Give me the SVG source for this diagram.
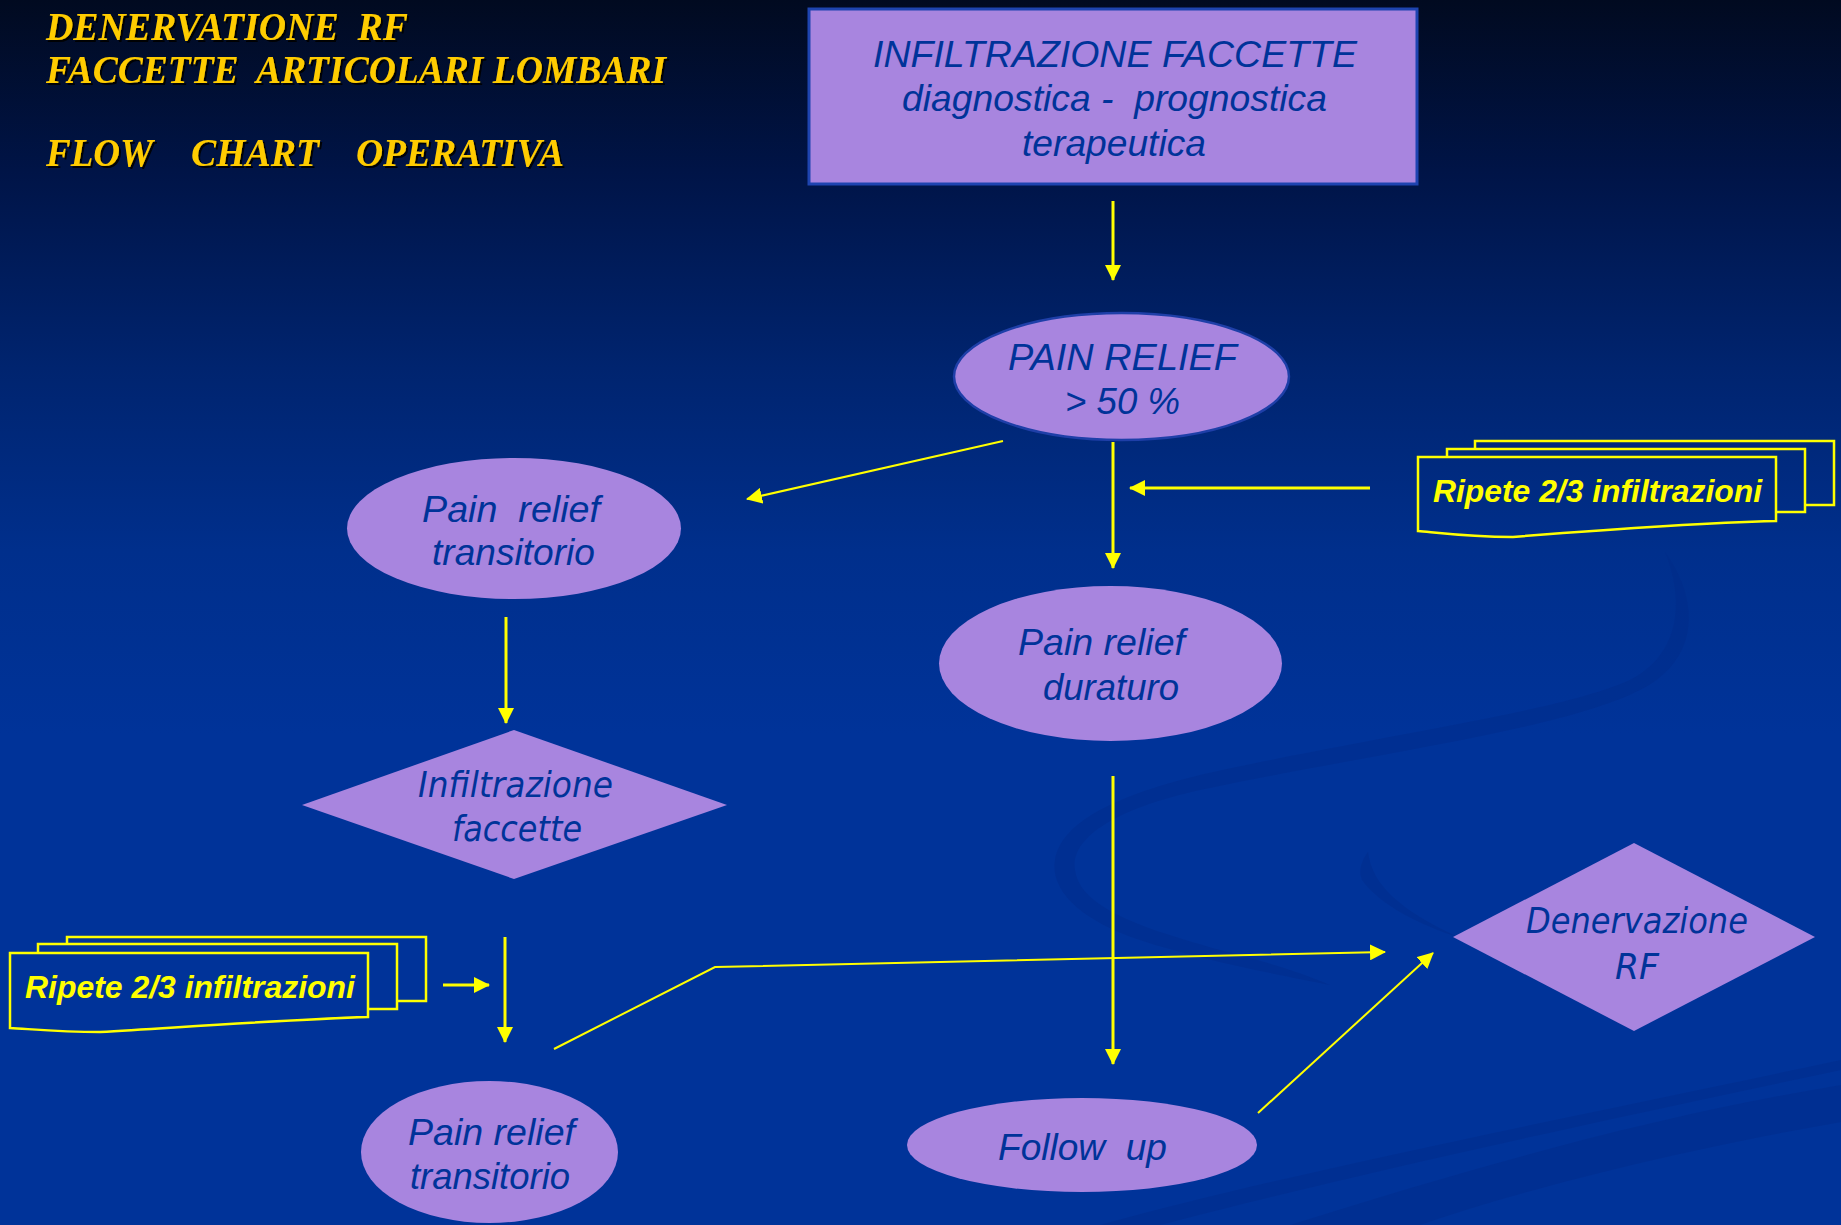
<svg xmlns="http://www.w3.org/2000/svg" width="1841" height="1225" viewBox="0 0 1841 1225" xml:space="preserve">
<defs>
<linearGradient id="bg" gradientUnits="userSpaceOnUse" x1="0" y1="0" x2="0" y2="1225">
<stop offset="0" stop-color="#010a20"/>
<stop offset="0.14" stop-color="#001447"/>
<stop offset="0.3" stop-color="#00246f"/>
<stop offset="0.45" stop-color="#002f8c"/>
<stop offset="0.6" stop-color="#003399"/>
<stop offset="1" stop-color="#003399"/>
</linearGradient>
<filter id="shadow" x="-5%" y="-20%" width="110%" height="150%">
<feDropShadow dx="2" dy="2" stdDeviation="0.6" flood-color="#000000" flood-opacity="0.9"/>
</filter>
<marker id="ah" markerUnits="userSpaceOnUse" markerWidth="16" markerHeight="16" refX="15" refY="8" orient="auto">
<path d="M0,0 L16,8 L0,16 Z" fill="#ffff00"/>
</marker>
<style>
.title{font-family:"Liberation Serif","Times New Roman",serif;font-weight:bold;font-style:italic;font-size:39px;fill:#ffcc00;white-space:pre}
.lbl{font-family:"Liberation Sans",Arial,sans-serif;font-style:italic;font-size:37px;fill:#003399;white-space:pre}
.lbl2{font-family:"DejaVu Sans Condensed","DejaVu Sans",sans-serif;font-style:italic;font-size:35px;fill:#003399;white-space:pre}
.rip{font-family:"Liberation Sans",Arial,sans-serif;font-style:italic;font-weight:bold;font-size:31px;fill:#ffff00;white-space:pre}
.node{fill:#a885df}
.ripbox{fill:url(#bg);stroke:#ffff00;stroke-width:2.5}
.conn{fill:none;stroke:#ffff00;stroke-width:3}
.thin{fill:none;stroke:#ffff00;stroke-width:2}
.sw{fill:#002a86;opacity:0.4}
</style>
</defs>
<rect x="0" y="0" width="1841" height="1225" fill="url(#bg)"/>
<g id="background-swooshes">
<path class="sw" d="M1665,552 C1700,600 1700,660 1640,690 C1560,730 1380,752 1200,790 C1110,810 1070,840 1075,870 C1080,905 1130,925 1220,950 C1260,960 1300,972 1330,985 C1280,975 1200,960 1140,940 C1080,920 1050,890 1055,860 C1062,820 1120,795 1200,775 C1380,735 1560,712 1630,680 C1680,655 1685,600 1665,552 Z"/>
<path class="sw" d="M1368,852 C1372,885 1400,910 1458,937 C1420,925 1380,905 1362,880 C1358,870 1362,860 1368,852 Z" opacity="0.3"/>
<path class="sw" d="M1290,1225 C1480,1165 1660,1115 1841,1085 L1841,1122 C1680,1150 1520,1190 1420,1225 Z"/>
<path class="sw" d="M1100,1225 C1300,1170 1560,1120 1841,1060 L1841,1070 C1580,1125 1330,1180 1160,1225 Z" opacity="0.25"/>
</g>
<g id="title">
<text class="title" x="46" y="40" textLength="362" lengthAdjust="spacingAndGlyphs" filter="url(#shadow)">DENERVATIONE  RF</text>
<text class="title" x="46" y="83" textLength="620" lengthAdjust="spacingAndGlyphs" filter="url(#shadow)">FACCETTE  ARTICOLARI LOMBARI</text>
<text class="title" y="166" filter="url(#shadow)"><tspan x="46" textLength="107" lengthAdjust="spacingAndGlyphs">FLOW</tspan><tspan x="191" textLength="128" lengthAdjust="spacingAndGlyphs">CHART</tspan><tspan x="356" textLength="208" lengthAdjust="spacingAndGlyphs">OPERATIVA</tspan></text>
</g>
<g id="connectors">
<line class="conn" x1="1113" y1="201" x2="1113" y2="280" marker-end="url(#ah)"/>
<line class="conn" x1="1113" y1="442" x2="1113" y2="568" marker-end="url(#ah)"/>
<line class="conn" x1="1370" y1="488" x2="1130" y2="488" marker-end="url(#ah)"/>
<line class="thin" x1="1003" y1="441" x2="747" y2="499" marker-end="url(#ah)"/>
<line class="conn" x1="506" y1="617" x2="506" y2="723" marker-end="url(#ah)"/>
<line class="conn" x1="443" y1="985" x2="489" y2="985" marker-end="url(#ah)"/>
<line class="conn" x1="505" y1="937" x2="505" y2="1042" marker-end="url(#ah)"/>
<polyline class="thin" points="554,1049 715,967 1385,952" marker-end="url(#ah)"/>
<line class="conn" x1="1113" y1="776" x2="1113" y2="1064" marker-end="url(#ah)"/>
<line class="thin" x1="1258" y1="1113" x2="1433" y2="953" marker-end="url(#ah)"/>
</g>
<g id="n-infiltrazione-top">
<rect x="809" y="9" width="608" height="175" fill="#a885df" stroke="#1e44b0" stroke-width="3"/>
<text class="lbl" x="873" y="67" textLength="484" lengthAdjust="spacingAndGlyphs">INFILTRAZIONE FACCETTE</text>
<text class="lbl" x="902" y="111" textLength="425" lengthAdjust="spacingAndGlyphs">diagnostica -  prognostica</text>
<text class="lbl" x="1022" y="156" textLength="184" lengthAdjust="spacingAndGlyphs">terapeutica</text>
</g>
<g id="n-pain-relief-50">
<ellipse class="node" cx="1121.5" cy="376.5" rx="167.5" ry="63.5" stroke="#1e3fa8" stroke-width="2.5"/>
<text class="lbl" x="1008" y="370" textLength="229" lengthAdjust="spacingAndGlyphs">PAIN RELIEF</text>
<text class="lbl" x="1065" y="414" textLength="115" lengthAdjust="spacingAndGlyphs">&gt; 50 %</text>
</g>
<g id="n-ripete-right">
<rect class="ripbox" x="1475" y="441" width="359" height="64"/>
<rect class="ripbox" x="1447" y="449" width="358" height="63"/>
<path class="ripbox" d="M1418,457 H1776 V521 C1700,523 1600,530 1513,537 C1470,537 1440,533 1418,531 Z"/>
<text class="rip" x="1433" y="502" textLength="329" lengthAdjust="spacingAndGlyphs">Ripete 2/3 infiltrazioni</text>
</g>
<g id="n-pain-relief-transitorio-1">
<ellipse class="node" cx="514" cy="528.5" rx="167" ry="70.5"/>
<text class="lbl" x="422" y="522" textLength="178" lengthAdjust="spacingAndGlyphs">Pain  relief</text>
<text class="lbl" x="432" y="565" textLength="163" lengthAdjust="spacingAndGlyphs">transitorio</text>
</g>
<g id="n-pain-relief-duraturo">
<ellipse class="node" cx="1110.5" cy="663.5" rx="171.5" ry="77.5"/>
<text class="lbl" x="1018" y="655" textLength="167" lengthAdjust="spacingAndGlyphs">Pain relief</text>
<text class="lbl" x="1043" y="700" textLength="136" lengthAdjust="spacingAndGlyphs">duraturo</text>
</g>
<g id="n-infiltrazione-faccette">
<polygon class="node" points="302,805 514,730 727,805 514,879"/>
<text class="lbl2" x="418" y="797" textLength="195" lengthAdjust="spacingAndGlyphs">Infiltrazione</text>
<text class="lbl2" x="452" y="841" textLength="130" lengthAdjust="spacingAndGlyphs">faccette</text>
</g>
<g id="n-denervazione-rf">
<polygon class="node" points="1453,937 1634,843 1815,937 1634,1031"/>
<text class="lbl2" x="1526" y="933" textLength="222" lengthAdjust="spacingAndGlyphs">Denervazione</text>
<text class="lbl2" x="1615" y="979" textLength="44" lengthAdjust="spacingAndGlyphs">RF</text>
</g>
<g id="n-ripete-left">
<rect class="ripbox" x="67" y="937" width="359" height="64"/>
<rect class="ripbox" x="38" y="944" width="359" height="65"/>
<path class="ripbox" d="M10,953 H368 V1017 C300,1019 200,1026 100,1032 C60,1032 30,1029 10,1028 Z"/>
<text class="rip" x="25" y="998" textLength="330" lengthAdjust="spacingAndGlyphs">Ripete 2/3 infiltrazioni</text>
</g>
<g id="n-follow-up">
<ellipse class="node" cx="1082" cy="1145" rx="175" ry="47"/>
<text class="lbl" x="998" y="1160" textLength="169" lengthAdjust="spacingAndGlyphs">Follow  up</text>
</g>
<g id="n-pain-relief-transitorio-2">
<ellipse class="node" cx="489.5" cy="1152" rx="128.5" ry="71"/>
<text class="lbl" x="408" y="1145" textLength="167" lengthAdjust="spacingAndGlyphs">Pain relief</text>
<text class="lbl" x="410" y="1189" textLength="160" lengthAdjust="spacingAndGlyphs">transitorio</text>
</g>
</svg>
